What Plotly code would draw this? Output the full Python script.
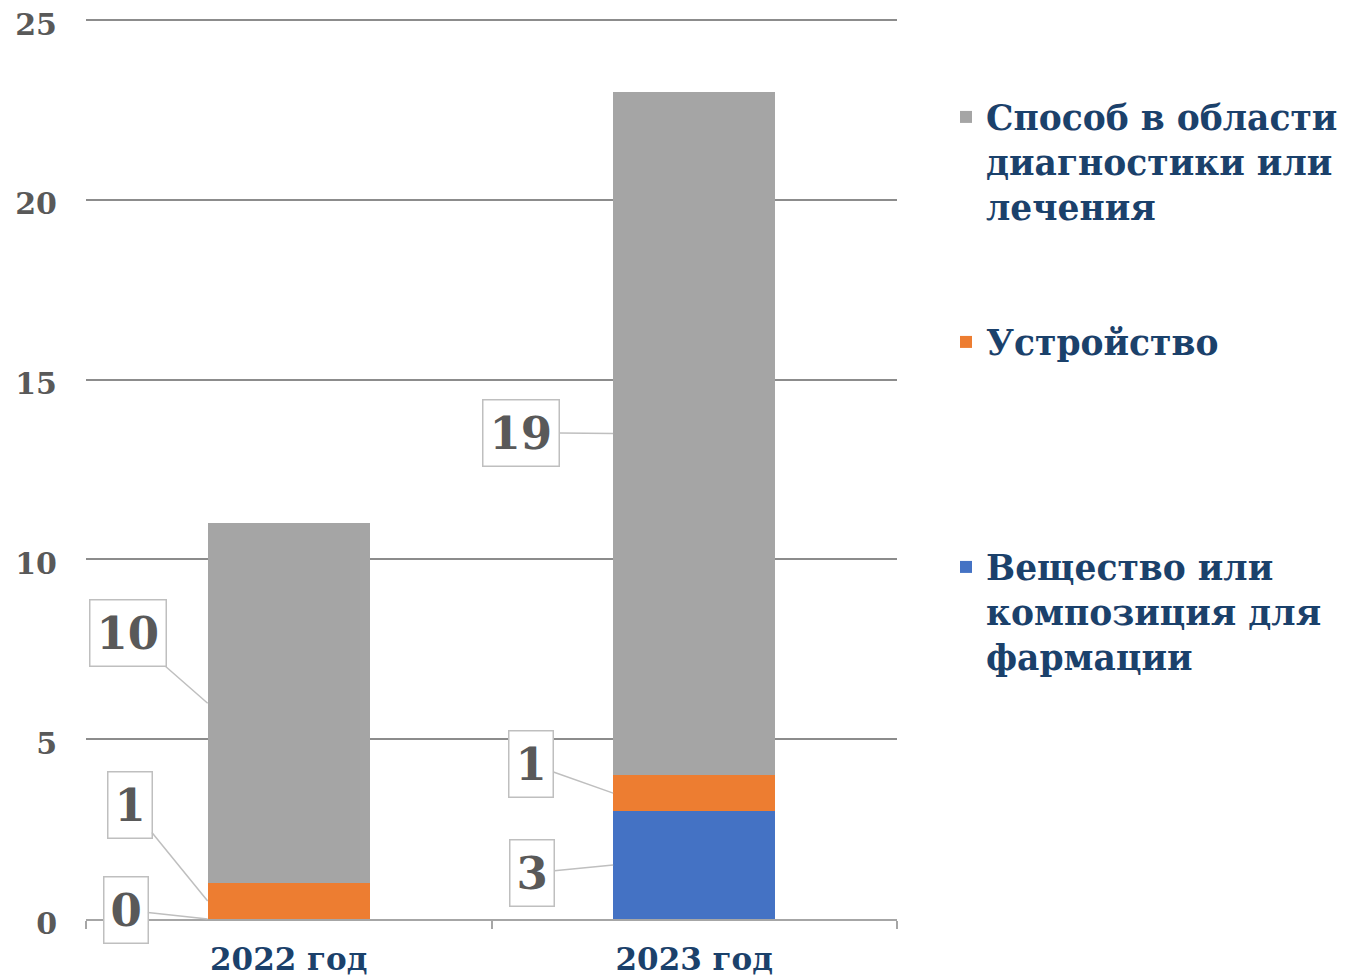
import plotly.graph_objects as go

categories = ["2022 год", "2023 год"]
series_names = [
    "Вещество или<br>композиция для<br>фармации",
    "Устройство",
    "Способ в области<br>диагностики или<br>лечения",
]
substance = [0, 3]
device = [1, 1]
method = [10, 19]
y_ticks = [0, 5, 10, 15, 20, 25]

colors = ["#4472C4", "#ED7D31", "#A5A5A5"]
series_values = [substance, device, method]

FONT = "DejaVu Serif"
NAVY = "#1B416B"
GRAY_TXT = "#595959"
BAR_WIDTH = 0.4
W, H = 1348, 977
OFF = 8  # page body margin

fig = go.Figure()
legend_ids = ["legend3", "legend2", "legend"]
for name, vals, col, lg in zip(series_names, series_values, colors, legend_ids):
    fig.add_trace(go.Bar(
        x=categories, y=vals, name=name,
        marker=dict(color=col, line=dict(width=0)),
        width=BAR_WIDTH, legend=lg,
    ))

# callout data labels (offsets in pixels)
offsets = [
    [(-82, -9), (-81, 8)],      # substance
    [(-78, -96), (-82, -29)],   # device
    [(-80, -70), (-92, -1)],    # method
]
for ci in range(len(categories)):
    base = 0
    for si, vals in enumerate(series_values):
        v = vals[ci]
        mid = base + v / 2
        ax, ay = offsets[si][ci]
        fig.add_annotation(
            x=ci - BAR_WIDTH / 2, y=mid, xref="x", yref="y",
            text=str(v), showarrow=True, arrowhead=0, arrowwidth=1.5,
            arrowcolor="#BFBFBF", ax=ax, ay=ay,
            font=dict(family=FONT, size=45, color=GRAY_TXT, weight="bold"),
            bgcolor="white", bordercolor="#BFBFBF", borderwidth=1.5, borderpad=6,
        )
        base += v

leg_font = dict(family=FONT, size=34.5, color=NAVY, weight="bold")
def leg(y):
    return dict(x=938 / W, y=1 - y / H, xref="container", yref="container",
                xanchor="left", yanchor="top", valign="top", font=leg_font,
                bgcolor="rgba(0,0,0,0)", itemclick=False)

fig.update_layout(
    width=W, height=H,
    margin=dict(l=86 - OFF, r=W - 897 + OFF, t=19 - OFF, b=H - 919 + OFF, autoexpand=False),
    paper_bgcolor="white", plot_bgcolor="white",
    barmode="stack", bargap=0.6,
    showlegend=True,
    legend=leg(80),
    legend2=leg(305),
    legend3=leg(530),
    xaxis=dict(
        type="category", tickson="boundaries", ticks="outside", ticklen=8,
        tickcolor="#A6A6A6", tickwidth=1.5, showline=True, linecolor="#A6A6A6",
        linewidth=1.5, showgrid=False, automargin=False,
        ticklabelstandoff=12, ticklabeloverflow="allow",
        tickfont=dict(family=FONT, size=31, color=NAVY, weight="bold"),
    ),
    yaxis=dict(
        range=[0, 25.03], tickvals=y_ticks, showgrid=True, gridcolor="#8C8C8C",
        gridwidth=2, zeroline=False, showline=False, ticks="", automargin=False,
        ticklabelstandoff=28, ticklabelshift=4, ticklabeloverflow="allow",
        tickfont=dict(family=FONT, size=30, color=GRAY_TXT, weight="bold"),
    ),
)

fig.write_html("out.html")
